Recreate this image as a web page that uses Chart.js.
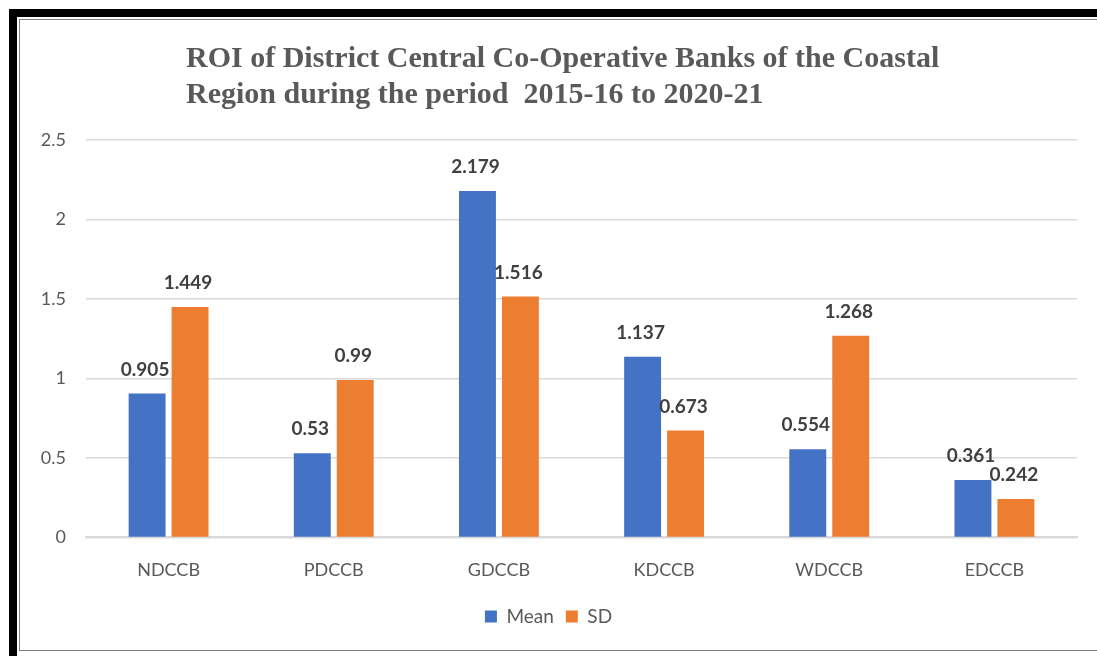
<!DOCTYPE html>
<html>
<head>
<meta charset="utf-8">
<script src="https://cdn.jsdelivr.net/npm/chart.js@4.4.0/dist/chart.umd.min.js"></script>
<style>
    html, body { margin: 0; padding: 0; background: #fff; overflow: hidden; }
    #wrap { position: absolute; left: 0; top: 0; width: 1097px; height: 656px; }
    .frameOuter {
        position: absolute; left: 9px; top: 9px; width: 1100px; height: 643px;
        border-left: 8px solid #000; border-top: 8px solid #000; border-bottom: 5px solid #000;
        pointer-events: none;
    }
    .frameInner {
        position: absolute; left: 19px; top: 19px; width: 1100px; height: 630px;
        border-left: 1px solid #808080; border-top: 1px solid #808080; border-bottom: 1px solid #808080;
        pointer-events: none;
    }
</style>
</head>
<body>
<div id="wrap"><canvas id="roiChart"></canvas></div>
<div class="frameOuter"></div>
<div class="frameInner"></div>
<script>
// Dados do gráfico
const banks = ['NDCCB', 'PDCCB', 'GDCCB', 'KDCCB', 'WDCCB', 'EDCCB'];
const meanValues = [0.905, 0.53, 2.179, 1.137, 0.554, 0.361];
const sdValues = [1.449, 0.99, 1.516, 0.673, 1.268, 0.242];
const titleLines = [
    'ROI of District Central Co-Operative Banks of the Coastal',
    'Region during the period  2015-16 to 2020-21'
];

const textGray = '#595959';
const uiFont = 'Lato, "Open Sans", sans-serif';

// Título alinhado à esquerda (duas linhas)
const titlePlugin = {
    id: 'leftTitle',
    afterDraw(chart) {
        const ctx = chart.ctx;
        ctx.save();
        ctx.fillStyle = textGray;
        ctx.font = 'bold 30px "Liberation Serif", "Times New Roman", serif';
        ctx.textAlign = 'left';
        ctx.textBaseline = 'alphabetic';
        ctx.fillText(titleLines[0], 186, 67);
        ctx.fillText(titleLines[1], 186, 103);
        ctx.restore();
    }
};

// Rótulos de valores acima das barras
const valueLabels = {
    id: 'valueLabels',
    afterDatasetsDraw(chart) {
        const ctx = chart.ctx;
        ctx.save();
        ctx.fillStyle = '#404040';
        ctx.font = 'bold 19px ' + uiFont;
        ctx.textAlign = 'center';
        ctx.textBaseline = 'middle';
        chart.data.datasets.forEach((ds, i) => {
            chart.getDatasetMeta(i).data.forEach((bar, j) => {
                ctx.fillText(String(ds.data[j]), bar.x - 2, bar.y - 24);
            });
        });
        ctx.restore();
    }
};

document.addEventListener('DOMContentLoaded', function() {
    const ctx = document.getElementById('roiChart').getContext('2d');
    window.roiChart = new Chart(ctx, {
        type: 'bar',
        data: {
            labels: banks,
            datasets: [
                { label: 'Mean', data: meanValues, backgroundColor: '#4472C4', categoryPercentage: 0.52, barPercentage: 0.86 },
                { label: 'SD', data: sdValues, backgroundColor: '#ED7D31', categoryPercentage: 0.52, barPercentage: 0.86 }
            ]
        },
        options: {
            responsive: true,
            maintainAspectRatio: false,
            animation: false,
            layout: { padding: { left: 20, right: 20, top: 140, bottom: 20 } },
            plugins: {
                title: { display: false },
                tooltip: { enabled: false },
                legend: {
                    position: 'bottom',
                    labels: {
                        color: textGray,
                        font: { family: uiFont, size: 19 },
                        boxWidth: 12,
                        boxHeight: 12,
                        padding: 12
                    }
                }
            },
            scales: {
                x: {
                    grid: { display: false },
                    border: { display: true, color: '#d9d9d9', width: 2 },
                    ticks: { color: textGray, font: { family: uiFont, size: 18 }, padding: 14 }
                },
                y: {
                    min: 0,
                    max: 2.5,
                    afterFit(scale) { scale.width = 66; },
                    border: { display: false },
                    grid: { color: '#d9d9d9', lineWidth: 1.5, drawTicks: false },
                    ticks: {
                        stepSize: 0.5,
                        color: textGray,
                        font: { family: uiFont, size: 18 },
                        padding: 20,
                        callback: function(value) { return String(value); }
                    }
                }
            }
        },
        plugins: [titlePlugin, valueLabels]
    });
});
</script>
</body>
</html>
